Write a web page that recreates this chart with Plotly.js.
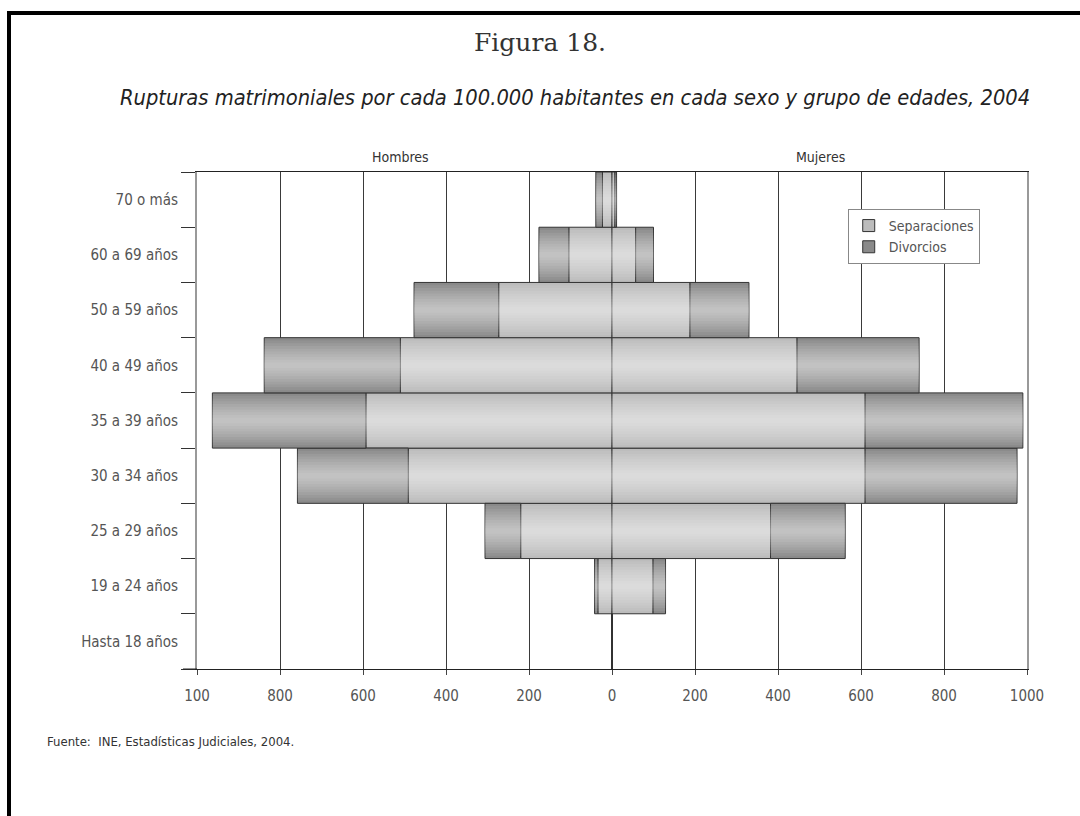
<!DOCTYPE html>
<html>
<head>
<meta charset="utf-8">
<script src="https://cdn.plot.ly/plotly-3.0.1.min.js"></script>
<style>
  html, body { margin: 0; padding: 0; background: #ffffff; }
  #chart { width: 1080px; height: 816px; }
</style>
</head>
<body>
<div id="chart"></div>
<script>
// ---- Data ----
const categories = ["Hasta 18 años", "19 a 24 años", "25 a 29 años", "30 a 34 años",
                    "35 a 39 años", "40 a 49 años", "50 a 59 años", "60 a 69 años", "70 o más"];
const hombresSeparaciones = [0, 34, 220, 491, 593, 510, 273, 104, 23];
const hombresDivorcios    = [0, 8, 86, 267, 370, 328, 204, 72, 16];
const mujeresSeparaciones = [0, 99, 382, 610, 610, 446, 188, 57, 7];
const mujeresDivorcios    = [0, 30, 180, 366, 380, 294, 142, 43, 4];
const tickVals = [-1000, -800, -600, -400, -200, 0, 200, 400, 600, 800, 1000];
const tickText = ["100", "800", "600", "400", "200", "0", "200", "400", "600", "800", "1000"];

const narrow = "Liberation Sans Narrow, DejaVu Sans Condensed, Arial Narrow, sans-serif";
const sepColor = "#bcbcbc";
const divColor = "#8a8a8a";

const neg = a => a.map(v => -v);

function barTrace(name, x, base, color, showlegend) {
  return {
    type: "bar", orientation: "h", name: name, legendgroup: name, showlegend: showlegend,
    y: categories, x: x, base: base, width: 1,
    marker: { color: color, line: { color: "#333333", width: 1 } },
    hovertemplate: name + ": %{x}<extra></extra>"
  };
}
function shineTraces(x, base) {
  const widths = [0.9, 0.8, 0.7, 0.6, 0.5, 0.4, 0.3, 0.2, 0.1];
  return widths.map(w => ({
    type: "bar", orientation: "h", showlegend: false, hoverinfo: "skip",
    y: categories, x: x, base: base, width: w,
    marker: { color: "rgba(255,255,255,0.075)", line: { width: 0 } }
  }));
}

const zeros = categories.map(() => 0);
const traces = [
  barTrace("Separaciones", neg(hombresSeparaciones), zeros, sepColor, true),
  barTrace("Divorcios", neg(hombresDivorcios), neg(hombresSeparaciones), divColor, true),
  barTrace("Separaciones", mujeresSeparaciones, zeros, sepColor, false),
  barTrace("Divorcios", mujeresDivorcios, mujeresSeparaciones, divColor, false)
];
const shines = [].concat(
  shineTraces(neg(hombresSeparaciones), zeros),
  shineTraces(neg(hombresDivorcios), neg(hombresSeparaciones)),
  shineTraces(mujeresSeparaciones, zeros),
  shineTraces(mujeresDivorcios, mujeresSeparaciones)
);

const layout = {
  width: 1080, height: 816,
  paper_bgcolor: "#ffffff", plot_bgcolor: "#ffffff",
  margin: { l: 197, r: 53, t: 172, b: 147 },
  barmode: "overlay",
  showlegend: true,
  font: { family: narrow, color: "#444444", size: 14 },
  xaxis: {
    range: [-1000, 1000], tickvals: tickVals, ticktext: tickText,
    showgrid: true, gridcolor: "#3a3a3a", gridwidth: 1,
    zeroline: true, zerolinecolor: "#222222", zerolinewidth: 1,
    showline: true, linecolor: "#222222", linewidth: 1, mirror: true,
    ticks: "outside", ticklen: 5, tickcolor: "#444444",
    ticklabelstandoff: 8,
    tickfont: { family: narrow, size: 15, color: "#555555" },
    fixedrange: true
  },
  yaxis: {
    type: "category", categoryorder: "array", categoryarray: categories,
    showgrid: false, zeroline: false,
    showline: true, linecolor: "#999999", linewidth: 2, mirror: true,
    ticks: "outside", tickson: "boundaries", ticklen: 14, tickcolor: "#333333",
    ticklabelstandoff: 14,
    tickfont: { family: narrow, size: 15, color: "#555555" },
    fixedrange: true
  },
  legend: {
    x: 0.784, y: 0.9256, xanchor: "left", yanchor: "top",
    bgcolor: "#ffffff", bordercolor: "#888888", borderwidth: 1,
    font: { family: narrow, size: 14, color: "#555555" },
    traceorder: "normal", tracegroupgap: 0, itemwidth: 30
  },
  annotations: [
    { text: "Figura 18.", xref: "paper", yref: "paper", x: (540 - 197) / 830, y: 1 + (172 - 42) / 497,
      xanchor: "center", yanchor: "middle", showarrow: false,
      font: { family: "DejaVu Serif, Liberation Serif, serif", size: 25, color: "#333333" } },
    { text: "<i>Rupturas matrimoniales por cada 100.000 habitantes en cada sexo y grupo de edades, 2004</i>",
      xref: "paper", yref: "paper", x: (575 - 197) / 830, y: 1 + (172 - 97) / 497,
      xanchor: "center", yanchor: "middle", showarrow: false,
      font: { family: narrow, size: 21.7, color: "#222222" } },
    { text: "Hombres", xref: "paper", yref: "paper", x: (400 - 197) / 830, y: 1 + (172 - 157) / 497,
      xanchor: "center", yanchor: "middle", showarrow: false,
      font: { family: narrow, size: 14, color: "#333333" } },
    { text: "Mujeres", xref: "paper", yref: "paper", x: (820 - 197) / 830, y: 1 + (172 - 157) / 497,
      xanchor: "center", yanchor: "middle", showarrow: false,
      font: { family: narrow, size: 14, color: "#333333" } },
    { text: "Fuente:  INE, Estadísticas Judiciales, 2004.", xref: "paper", yref: "paper",
      x: (45 - 197) / 830, y: -(741 - 669) / 497, xanchor: "left", yanchor: "middle", showarrow: false,
      font: { family: narrow, size: 13, color: "#333333" } }
  ],
  shapes: [
    { type: "line", xref: "paper", yref: "paper", x0: (183 - 197) / 830, x1: 0, y0: 0, y1: 0,
      line: { color: "#222222", width: 1 } },
    { type: "line", xref: "paper", yref: "paper", x0: (9 - 197) / 830, x1: (9 - 197) / 830,
      y0: 1 + (172 - 11) / 497, y1: -(830 - 669) / 497, line: { color: "#000000", width: 4 } },
    { type: "line", xref: "paper", yref: "paper", x0: (7 - 197) / 830, x1: (1090 - 197) / 830,
      y0: 1 + (172 - 13) / 497, y1: 1 + (172 - 13) / 497, line: { color: "#000000", width: 4 } }
  ]
};

Plotly.newPlot("chart", traces.concat(shines), layout, { displayModeBar: false, staticPlot: true });
</script>
</body>
</html>
